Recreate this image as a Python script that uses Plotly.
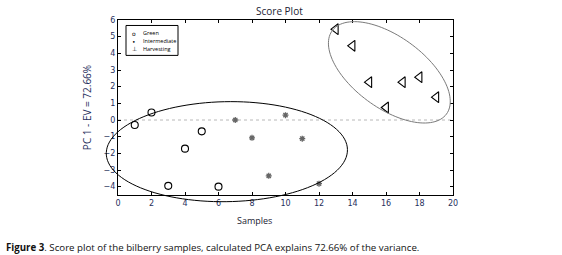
import numpy as np
import plotly.graph_objects as go

# ---------------- data ----------------
green_x = [1, 2, 3, 4, 5, 6]
green_y = [-0.30, 0.45, -3.95, -1.72, -0.68, -4.0]
inter_x = [7, 8, 9, 10, 11, 12]
inter_y = [0.0, -1.07, -3.35, 0.29, -1.12, -3.82]
harv_x = [13, 14, 15, 16, 17, 18, 19]
harv_y = [5.45, 4.45, 2.27, 0.75, 2.27, 2.57, 1.37]

x_ticks = [0, 2, 4, 6, 8, 10, 12, 14, 16, 18, 20]
y_ticks = [-4, -3, -2, -1, 0, 1, 2, 3, 4, 5, 6]
x_range = [0, 20]
y_range = [-4.5, 6]

# confidence ellipses: centre x, centre y, semi-axis a, semi-axis b, angle (deg)
ell1 = dict(cx=6.5, cy=-1.9, a=7.2, b=3.0, ang=1.0)
ell2 = dict(cx=16.2, cy=2.86, a=4.23, b=2.14, ang=-36.3)

NAVY = "#1f2f5c"

def ellipse_path(e, n=120):
    t = np.linspace(0, 2 * np.pi, n)
    th = np.deg2rad(e["ang"])
    xs = e["cx"] + e["a"] * np.cos(t) * np.cos(th) - e["b"] * np.sin(t) * np.sin(th)
    ys = e["cy"] + e["a"] * np.cos(t) * np.sin(th) + e["b"] * np.sin(t) * np.cos(th)
    # convert to axis-domain fractions so the path is not clipped
    fx = (xs - x_range[0]) / (x_range[1] - x_range[0])
    fy = (ys - y_range[0]) / (y_range[1] - y_range[0])
    pts = [f"{a:.4f},{b:.4f}" for a, b in zip(fx, fy)]
    return "M" + " L".join(pts) + " Z"

fig = go.Figure()
fig.add_trace(go.Scatter(x=green_x, y=green_y, mode="markers", name="Green",
                         marker=dict(symbol="circle-open", size=7, color="black",
                                     line=dict(width=1.1, color="black")),
                         cliponaxis=False))
fig.add_trace(go.Scatter(x=inter_x, y=inter_y, mode="markers", name="Intermediate",
                         marker=dict(symbol="asterisk-open", size=5, color="#666666",
                                     line=dict(width=1.3, color="#666666")),
                         cliponaxis=False))
fig.add_trace(go.Scatter(x=harv_x, y=harv_y, mode="markers", name="Harvesting",
                         marker=dict(symbol="triangle-left-open", size=9.5, color="black",
                                     line=dict(width=1.1, color="black")),
                         cliponaxis=False))

shapes = [
    dict(type="line", xref="x", yref="y", x0=x_range[0], x1=x_range[1], y0=0, y1=0,
         line=dict(color="#b8b8b8", width=1, dash="dot"), layer="below"),
    dict(type="path", xref="x domain", yref="y domain", path=ellipse_path(ell1),
         line=dict(color="black", width=1)),
    dict(type="path", xref="x domain", yref="y domain", path=ellipse_path(ell2),
         line=dict(color="#7a7a7a", width=1)),
]

# plot area in pixels
L, R, T, B = 118, 453, 19.5, 195
def dx(px):
    return (px - L) / (R - L)
def dy(py):
    return (B - py) / (B - T)

# manual compact legend
shapes.append(dict(type="rect", xref="x domain", yref="y domain",
                   x0=dx(126), x1=dx(178), y0=dy(55), y1=dy(25),
                   line=dict(color="black", width=1), fillcolor="white"))

legend_names = ["Green", "Intermediate", "Harvesting"]
legend_glyphs = ["o", "•", "⊥"]
legend_rows = [33, 40.7, 48.5]
annotations = []
for name, g, row in zip(legend_names, legend_glyphs, legend_rows):
    annotations.append(dict(xref="x domain", yref="y domain", x=dx(134), y=dy(row),
                            text=g, showarrow=False, xanchor="center", yanchor="middle",
                            font=dict(size=6, color="black", family="DejaVu Sans")))
    annotations.append(dict(xref="x domain", yref="y domain", x=dx(141), y=dy(row),
                            text=name, showarrow=False, xanchor="left", yanchor="middle",
                            font=dict(size=5.5, color="black", family="Open Sans")))

annotations.append(dict(xref="paper", yref="paper", x=dx(279), y=dy(10.5),
                        text="Score Plot", showarrow=False, xanchor="center", yanchor="middle",
                        font=dict(size=10, color="#222233", family="Open Sans")))
annotations.append(dict(xref="paper", yref="paper", x=dx(254), y=dy(221),
                        text="Samples", showarrow=False, xanchor="center", yanchor="middle",
                        font=dict(size=9, color="#222233", family="Open Sans")))
annotations.append(dict(xref="paper", yref="paper", x=dx(4), y=dy(248),
                        text="<b>Figure 3</b>. Score plot of the bilberry samples, calculated PCA explains 72.66% of the variance.",
                        showarrow=False, xanchor="left", yanchor="middle",
                        font=dict(size=9.7, color="#111111", family="Open Sans")))

axis_common = dict(showline=True, linecolor="black", linewidth=1, mirror="ticks",
                   ticks="inside", ticklen=3, tickcolor="black", showgrid=False,
                   zeroline=False, tickfont=dict(size=8, color=NAVY, family="DejaVu Sans"))

fig.update_layout(
    width=562, height=255,
    margin=dict(l=L, r=562 - R, t=T, b=255 - B),
    paper_bgcolor="white", plot_bgcolor="white",
    showlegend=False,
    shapes=shapes, annotations=annotations,
    xaxis=dict(range=x_range, tickvals=x_ticks, **axis_common),
    yaxis=dict(range=y_range, tickvals=y_ticks,
               title=dict(text="PC 1 - EV = 72.66%", standoff=10,
                          font=dict(size=10, color=NAVY, family="Open Sans")),
               **axis_common),
)

fig.write_html("out.html", config={"displayModeBar": False},
               post_script="document.body.style.margin='0px';document.body.style.overflow='hidden';")
